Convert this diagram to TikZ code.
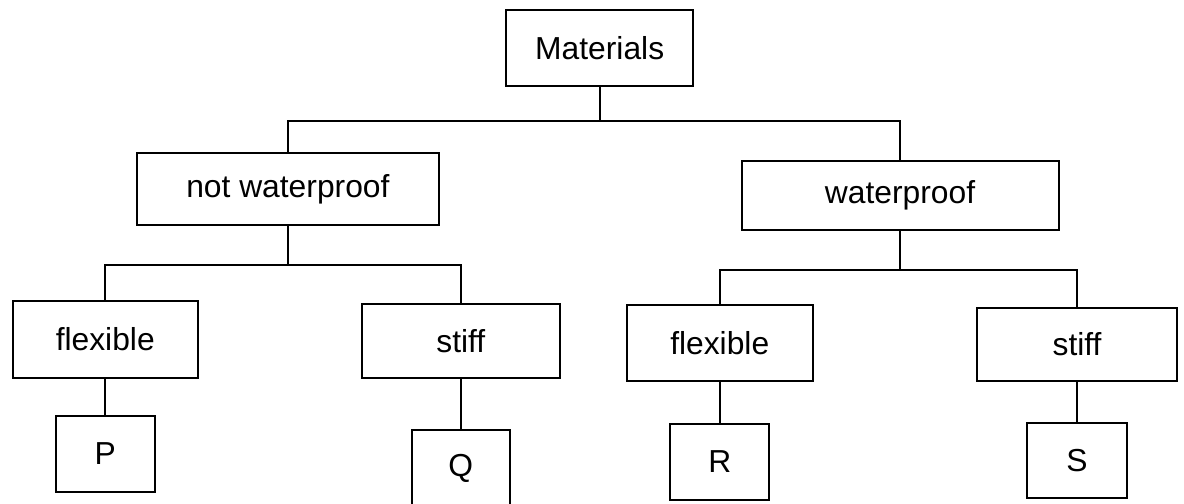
\documentclass[tikz,border=0pt]{standalone}
\usepackage{fontspec}
\setmainfont{Liberation Sans}
\usepackage{tikz}
\usetikzlibrary{arrows, calc, positioning}

\begin{document}
\begin{tikzpicture}[thick, inner sep=0pt, font=\fontsize{15.9}{19}\selectfont,
	kasten/.style={rectangle, draw=black, line width=1pt},
	linie/.style={-, line width=1pt}]

	\useasboundingbox (0,0) rectangle (20.81,-8.857);

	% Kaesten
	\node[kasten, minimum width=3.29cm, minimum height=1.34cm](mat) at (10.54,-0.84) {Materials};

	\node[kasten, minimum width=5.31cm, minimum height=1.27cm](nwp) at (5.06,-3.32) {not waterproof};
	\node[kasten, minimum width=5.57cm, minimum height=1.21cm](wp) at (15.82,-3.44) {waterproof};

	\node[kasten, minimum width=3.25cm, minimum height=1.35cm](flex_a) at (1.85,-5.96) {flexible};
	\node[kasten, minimum width=3.48cm, minimum height=1.30cm](stiff_a) at (8.10,-5.99) {stiff};
	\node[kasten, minimum width=3.27cm, minimum height=1.35cm](flex_b) at (12.65,-6.03) {flexible};
	\node[kasten, minimum width=3.51cm, minimum height=1.28cm](stiff_b) at (18.93,-6.05) {stiff};

	\node[kasten, minimum width=1.74cm, minimum height=1.35cm](P) at (1.85,-7.98) {P};
	\node[kasten, minimum width=1.72cm, minimum height=1.37cm](Q) at (8.10,-8.24) {Q};
	\node[kasten, minimum width=1.74cm, minimum height=1.35cm](R) at (12.65,-8.12) {R};
	\node[kasten, minimum width=1.77cm, minimum height=1.32cm](S) at (18.93,-8.10) {S};

	% Hoehen der Querlinien
	\coordinate (quer_1) at (0,-2.13);
	\coordinate (quer_2) at (0,-4.66);
	\coordinate (quer_3) at (0,-4.74);

	% Verzweigungen
	\draw[linie] (mat.south) -- (mat |- quer_1) -| (nwp.north);
	\draw[linie] (mat |- quer_1) -| (wp.north);

	\draw[linie] (nwp.south) -- (nwp |- quer_2) -| (flex_a.north);
	\draw[linie] (nwp |- quer_2) -| (stiff_a.north);

	\draw[linie] (wp.south) -- (wp |- quer_3) -| (flex_b.north);
	\draw[linie] (wp |- quer_3) -| (stiff_b.north);

	% senkrechte Linien
	\draw[linie](flex_a) edge (P);
	\draw[linie](stiff_a) edge (Q);
	\draw[linie](flex_b) edge (R);
	\draw[linie](stiff_b) edge (S);
\end{tikzpicture}
\end{document}
